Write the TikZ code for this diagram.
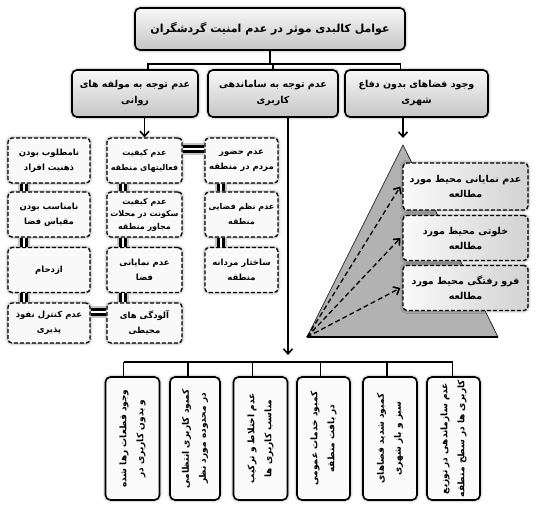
\documentclass[tikz,border=0pt]{standalone}
\usepackage{fontspec}
\newfontfamily\fafont[Script=Arabic]{DejaVu Sans}
\TeXXeTstate=1
\usetikzlibrary{arrows.meta,calc,shadows.blur}
\newcommand{\rl}[1]{\beginR #1\endR}

\begin{document}
\begin{tikzpicture}[
		x=1pt, y=-1pt,
		>={Straight Barb[length=5pt,width=9pt,line width=1.6pt]},
		glow/.style={
			blur shadow={shadow xshift=0pt,shadow yshift=0pt,shadow blur radius=3pt,shadow opacity=55}
		},
		topbox/.style={
			rounded corners=5pt,
			draw=black,
			line width=1.6pt,
			top color=gray!6,
			bottom color=gray!45,
			glow,
			minimum width=270pt,
			minimum height=42pt,
			align=center,
			inner sep=2pt,
			font=\fafont\bfseries\fontsize{11}{16}\selectfont
		},
		catbox/.style={
			topbox,
			minimum height=47pt,
			font=\fafont\bfseries\fontsize{9.5}{16}\selectfont
		},
		factor/.style={
			rounded corners=4pt,
			draw=black,
			line width=1.3pt,
			dash pattern=on 4pt off 2pt,
			fill=gray!5,
			glow,
			minimum height=45pt,
			align=center,
			inner sep=1pt,
			font=\fafont\bfseries\fontsize{8.5}{15}\selectfont
		},
		sidebox/.style={
			factor,
			left color=gray!4,
			right color=gray!35,
			minimum width=125pt,
			minimum height=45pt,
			font=\fafont\bfseries\fontsize{9.5}{15}\selectfont
		},
		usebox/.style={
			rotate=90,
			rounded corners=5pt,
			draw=black,
			line width=1.6pt,
			fill=gray!4,
			glow,
			minimum width=123pt,
			minimum height=54pt,
			align=center,
			inner sep=1pt,
			font=\fafont\bfseries\fontsize{9}{17}\selectfont
		},
		tree/.style={
			draw=black,
			line width=1.6pt
		},
		dbl/.style={
			draw=black,
			line width=3pt,
			double=white,
			double distance=1.8pt,
			preaction={draw=gray!45,line width=12pt}
		},
		ray/.style={
			->,
			draw=black,
			line width=1.3pt,
			dash pattern=on 5pt off 3pt
		},
		pyramid/.style={
			draw=black,
			line width=0.6pt,
			fill=gray!60
		}
	]
		\useasboundingbox (0,0) rectangle (538,504);

		% head and categories
		\node[topbox] (top) at (270,29) {\rl{عوامل کالبدی موثر در عدم امنیت گردشگران}};

		\node[catbox,minimum width=126pt] (cat1) at (135,93.5) {\rl{عدم توجه به مولفه های}\\\rl{روانی}};
		\node[catbox,minimum width=130pt] (cat2) at (273,93.5) {\rl{عدم توجه به ساماندهی}\\\rl{کاربری}};
		\node[catbox,minimum width=143pt] (cat3) at (416.5,93.5) {\rl{وجود فضاهای بدون دفاع}\\\rl{شهری}};

		\coordinate (split) at (273,64);
		\draw[tree] (top.south) -- (top.south |- split);
		\draw[tree] ([xshift=13pt]cat1.north) |- (split) -| ([xshift=-16pt]cat3.north);
		\draw[tree] (split) -- (cat2.north);

		% psychological factors
		\node[factor,minimum width=82pt] (l1) at (49,160.5) {\rl{نامطلوب بودن}\\\rl{ذهنیت افراد}};
		\node[factor,minimum width=82pt] (l2) at (49,214.5) {\rl{نامناسب بودن}\\\rl{مقیاس فضا}};
		\node[factor,minimum width=82pt] (l3) at (49,270) {\rl{ازدحام}};
		\node[factor,minimum width=82pt,minimum height=40pt] (l4) at (49,323) {\rl{عدم کنترل نفوذ}\\\rl{پذیری}};

		\node[factor,minimum width=75pt,font=\fafont\bfseries\fontsize{8}{15}\selectfont] (m1) at (144.5,160.5) {\rl{عدم کیفیت}\\\rl{فعالیتهای منطقه}};
		\node[factor,minimum width=75pt,font=\fafont\bfseries\fontsize{8}{12.5}\selectfont] (m2) at (144.5,214.5) {\rl{عدم کیفیت}\\\rl{سکونت در محلات}\\\rl{مجاور منطقه}};
		\node[factor,minimum width=75pt] (m3) at (144.5,270) {\rl{عدم نمایانی}\\\rl{فضا}};
		\node[factor,minimum width=75pt,minimum height=40pt] (m4) at (144.5,323) {\rl{آلودگی های}\\\rl{محیطی}};

		\node[factor,minimum width=73pt] (r1) at (241.5,160.5) {\rl{عدم حضور}\\\rl{مردم در منطقه}};
		\node[factor,minimum width=73pt,font=\fafont\bfseries\fontsize{8}{15}\selectfont] (r2) at (241.5,214.5) {\rl{عدم نظم فضایی}\\\rl{منطقه}};
		\node[factor,minimum width=73pt] (r3) at (241.5,270) {\rl{ساختار مردانه}\\\rl{منطقه}};

		\draw[tree,->] (cat1.south -| m1.north) -- (m1.north);

		\foreach \a/\b in {l1/l2,l2/l3,l3/l4,m1/m2,m2/m3,m3/m4,r1/r2,r2/r3}
			\draw[dbl] ([xshift=17pt]\a.south west) -- ([xshift=17pt]\b.north west);
		\draw[dbl] ([yshift=-12pt]m1.north east) -- ([yshift=-12pt]r1.north west);
		\draw[dbl] ([yshift=-10pt]l4.north east) -- ([yshift=-10pt]m4.north west);

		% undefended spaces
		\coordinate (apex) at (403,145);
		\coordinate (baseL) at (307,337);
		\coordinate (baseR) at (498,337);
		\draw[tree,->,shorten >=7pt] (cat3.south -| apex) -- (apex);
		\draw[pyramid] (apex) -- (baseR) -- (baseL) -- cycle;
		\draw[draw=black,line width=1.4pt] (baseL) -- (baseR);

		\node[sidebox,minimum height=47pt] (s1) at (465.5,186.5) {\rl{عدم نمایانی محیط مورد}\\\rl{مطالعه}};
		\node[sidebox] (s2) at (465.5,238) {\rl{خلوتی محیط مورد}\\\rl{مطالعه}};
		\node[sidebox] (s3) at (465.5,288) {\rl{فرو رفتگی محیط مورد}\\\rl{مطالعه}};

		\foreach \s in {s1,s2,s3}
			\draw[ray] (baseL) -- ([xshift=-2pt]\s.west);

		% land-use problems
		\coordinate (busend) at (288,355);
		\draw[tree,->] ([xshift=15pt]cat2.south) -- (busend);

		\node[usebox] (u1) at (132.5,438.5) {\rl{وجود قطعات رها شده}\\\rl{و بدون کاربری در}};
		\node[usebox,minimum height=50pt] (u2) at (195,438.5) {\rl{کمبود کاربری انتظامی}\\\rl{در محدوده مورد نظر}};
		\node[usebox] (u3) at (260.5,438.5) {\rl{عدم اختلاط و ترکیب}\\\rl{مناسب کاربری ها}};
		\node[usebox,minimum height=53pt] (u4) at (323.5,438.5) {\rl{کمبود خدمات عمومی}\\\rl{در بافت منطقه}};
		\node[usebox] (u5) at (390,438.5) {\rl{کمبود شدید فضاهای}\\\rl{سبز و باز شهری}};
		\node[usebox,minimum height=53pt] (u6) at (453.5,438.5) {\rl{عدم سازماندهی در توزیع}\\\rl{کاربری ها در سطح منطقه}};

		\coordinate (bus) at (0,362);
		\draw[tree] ([xshift=-9pt]u1.east |- bus) -- ([xshift=-1pt]u6.east |- bus);
		\foreach \u/\d in {u1/-9,u2/-7,u3/-8,u4/-3,u5/-3,u6/-1}
			\draw[tree] ([xshift=\d pt]\u.east |- bus) -- ([xshift=\d pt]\u.east);
	\end{tikzpicture}
\end{document}
